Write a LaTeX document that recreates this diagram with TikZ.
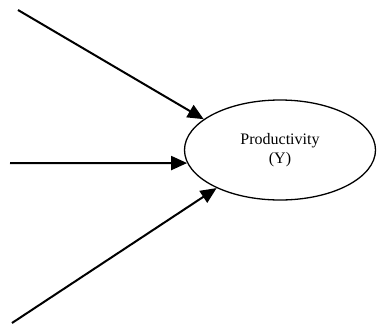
\documentclass[tikz,border=0pt]{standalone}
\usepackage{fontspec}
\setmainfont{Liberation Serif}
\usetikzlibrary{shapes.geometric,arrows.meta}
\begin{document}
\begin{tikzpicture}[x=1pt,y=-1pt,
  arr/.style={line width=2pt,-{Triangle[length=16pt,width=14pt]}},
  target/.style={ellipse,draw,line width=1.3pt,minimum width=191pt,minimum height=100pt,inner sep=0pt,align=center,font=\fontsize{16}{19}\selectfont}]
\useasboundingbox (0,0) rectangle (377,325);
\node[target] (Y) at (280,150) {Productivity\\(Y)};
\coordinate (a) at (18,10);
\coordinate (b) at (10,163);
\coordinate (c) at (12,323);
\draw[arr] (a) -- (Y.158);
\draw[arr] (b) -- (Y.188);
\draw[arr] (c) -- (Y.211);
\end{tikzpicture}
\end{document}
